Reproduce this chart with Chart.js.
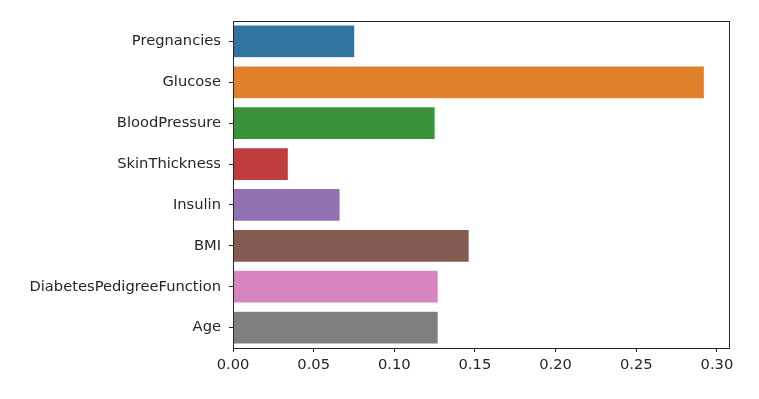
<!DOCTYPE html>
<html>
<head>
<meta charset="utf-8">
<script src="https://cdn.jsdelivr.net/npm/chart.js@4"></script>
<style>
  html, body { margin: 0; padding: 0; background: #fff; }
  #wrap { width: 759px; height: 399px; }
</style>
</head>
<body>
<div id="wrap"><canvas id="chart" width="759" height="399"></canvas></div>
<script>
// feature importances
const features = ['Pregnancies', 'Glucose', 'BloodPressure', 'SkinThickness',
                  'Insulin', 'BMI', 'DiabetesPedigreeFunction', 'Age'];
const importances = [0.0755, 0.2922, 0.1253, 0.0343, 0.0664, 0.1464, 0.1272, 0.1272];
const xTicks = [0, 0.05, 0.10, 0.15, 0.20, 0.25, 0.30];

// seaborn default palette (saturation 0.75)
const barColors = ['#3274a1', '#e1812c', '#3a923a', '#c03d3e',
                   '#9372b2', '#845b53', '#d684bd', '#7f7f7f'];

const frame = {
  id: 'frame',
  afterDatasetsDraw(chart) {
    const a = chart.chartArea, c = chart.ctx;
    c.save();
    c.strokeStyle = '#262626';
    c.lineWidth = 1;
    c.strokeRect(Math.round(a.left) + 0.5, Math.round(a.top) + 0.5,
                 Math.round(a.right - a.left), Math.round(a.bottom - a.top));
    c.restore();
  }
};

const font = { family: 'DejaVu Sans', size: 14.7 };

new Chart(document.getElementById('chart'), {
  type: 'bar',
  data: {
    labels: features,
    datasets: [{
      data: importances,
      backgroundColor: barColors,
      borderColor: 'rgba(255,255,255,0.6)',
      borderWidth: 0.5,
      categoryPercentage: 1.0,
      barPercentage: 0.8
    }]
  },
  options: {
    indexAxis: 'y',
    responsive: false,
    animation: false,
    layout: { padding: { left: 0, right: 30, top: 21, bottom: 0 } },
    plugins: { legend: { display: false }, tooltip: { enabled: false } },
    scales: {
      x: {
        min: 0,
        max: 0.3075,
        afterBuildTicks(scale) {
          scale.ticks = xTicks.map(v => ({ value: v }));
        },
        afterFit(scale) { scale.height = 51; },
        grid: { drawOnChartArea: false, drawTicks: true, tickLength: 4, color: '#262626' },
        border: { display: true, color: '#262626' },
        ticks: {
          font: font,
          color: '#262626',
          padding: 4,
          maxRotation: 0,
          callback: v => Number(v).toFixed(2)
        }
      },
      y: {
        afterFit(scale) { scale.width = 233; },
        grid: { drawOnChartArea: false, drawTicks: true, tickLength: 4, color: '#262626', offset: false },
        border: { display: true, color: '#262626' },
        ticks: { font: font, color: '#262626', padding: 8 }
      }
    }
  },
  plugins: [frame]
});
</script>
</body>
</html>
